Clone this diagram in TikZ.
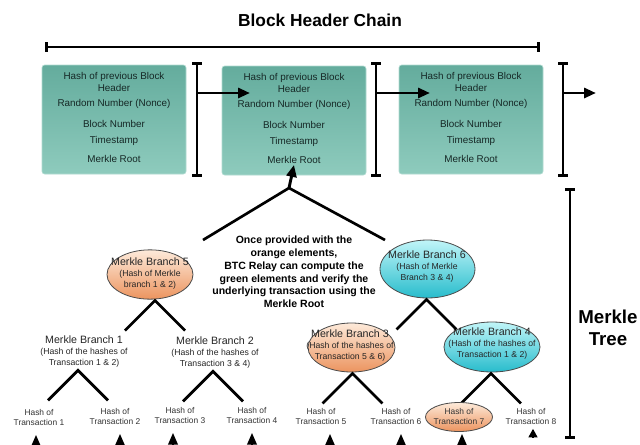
\documentclass[tikz,border=0pt]{standalone}
\usepackage{fontspec}
\setmainfont{Liberation Sans}
\usetikzlibrary{arrows.meta, shapes.geometric, calc, positioning}
\definecolor{HdrTop}{RGB}{100,172,157}
\definecolor{HdrBot}{RGB}{142,203,189}
\definecolor{HdrText}{RGB}{22,40,38}
\definecolor{OrgTop}{RGB}{253,234,218}
\definecolor{OrgBot}{RGB}{236,148,95}
\definecolor{CyaTop}{RGB}{192,245,248}
\definecolor{CyaBot}{RGB}{40,188,204}
\definecolor{EdgeGray}{RGB}{75,75,75}

\begin{document}
\begin{tikzpicture}[x=0.75pt, y=-0.75pt,
    hdrbox/.style={draw=HdrBot!70!white, line width=0.5pt, rounded corners=2pt,
      top color=HdrTop, bottom color=HdrBot, minimum width=108pt,
      minimum height=81.75pt, inner sep=0pt},
    hdrtxt/.style={text=HdrText, font=\fontsize{7.4}{9}\selectfont, align=center, inner sep=1pt},
    ibeam/.style={line width=2.2pt, {Bar[width=7pt]}-{Bar[width=7pt]}},
    chainarrow/.style={line width=2.2pt, -{Triangle[length=9pt,width=7.5pt]}},
    fork/.style={line width=2pt},
    orangenode/.style={ellipse, draw=EdgeGray, line width=0.6pt, top color=OrgTop,
      bottom color=OrgBot, inner sep=0pt},
    cyannode/.style={ellipse, draw=EdgeGray, line width=0.6pt, top color=CyaTop,
      bottom color=CyaBot, inner sep=0pt},
    branchtxt/.style={align=center, text=black!85, font=\fontsize{6.5}{8.25}\selectfont, inner sep=1pt},
    leaftxt/.style={align=center, text=black!80, font=\fontsize{6.3}{7.5}\selectfont, inner sep=1pt},
    leafarrow/.style={line width=2pt, -{Triangle[length=9pt,width=7pt]}},
  ]
  \fill[white] (0,0) rectangle (640,444);
  \useasboundingbox (0,0) rectangle (640,444);

  % block header chain
  \node[font=\bfseries\fontsize{13}{15}\selectfont] (title) at (320,20) {Block Header Chain};
  \draw[ibeam] (45,47) coordinate (chainl) -- (540,47) coordinate (chainr);

  \foreach \n/\x/\y in {1/114/119.5, 2/294/120.5, 3/471/119.5} {
    \node[hdrbox] (hdr\n) at (\x,\y) {};
    \node[hdrtxt] (prev\n) at ($(hdr\n.north)+(0,17)$) {Hash of previous Block\\Header};
    \node[hdrtxt] (nonce\n) at ($(hdr\n.north)+(0,39)$) {Random Number (Nonce)};
    \node[hdrtxt] (num\n) at ($(hdr\n.north)+(0,59)$) {Block Number};
    \node[hdrtxt] (time\n) at ($(hdr\n.north)+(0,76)$) {Timestamp};
    \node[hdrtxt] (root\n) at ($(hdr\n.north)+(0,94)$) {Merkle Root};
  }

  \foreach \n/\x/\len in {1/197/53, 2/376/54, 3/563/33} {
    \draw[ibeam] (\x,62) coordinate (bt\n) -- (\x,177) coordinate (bb\n);
    \draw[chainarrow] (\x,93) coordinate (ba\n) -- ++(\len,0);
  }

  % merkle tree
  \draw[ibeam] (570,188) coordinate (treetop) -- (570,439) coordinate (treebot);
  \node[font=\bfseries\fontsize{14}{16.5}\selectfont, align=center] (treelabel) at (608,328) {Merkle\\Tree};

  \coordinate (apex) at (289,188);
  \draw[chainarrow] (apex) -- (root2.south);
  \draw[fork] (203,240) coordinate (forkl) -- (apex) -- (385,240) coordinate (forkr);

  \node[font=\bfseries\fontsize{7.9}{9.6}\selectfont, align=center] (note) at (294,272)
    {Once provided with the\\orange elements,\\BTC Relay can compute the\\green elements and verify the\\underlying transaction using the\\Merkle Root};

  \node[orangenode, minimum width=64.5pt, minimum height=37pt] (mb5) at (150,274.5) {};
  \node[branchtxt] (mb5t) at (150,274) {{\fontsize{8}{8.25}\selectfont Merkle Branch 5}\\(Hash of Merkle\\branch 1 \& 2)};
  \node[cyannode, minimum width=71.25pt, minimum height=43.5pt] (mb6) at (427.5,269) {};
  \node[branchtxt] (mb6t) at (427,267) {{\fontsize{8}{8.25}\selectfont Merkle Branch 6}\\(Hash of Merkle\\Branch 3 \& 4)};
  \node[orangenode, minimum width=65.25pt, minimum height=36.75pt] (mb3) at (351.5,347.5) {};
  \node[branchtxt] (mb3t) at (350,346) {{\fontsize{8}{8.25}\selectfont Merkle Branch 3}\\(Hash of the hashes of\\Transaction 5 \& 6)};
  \node[cyannode, minimum width=72pt, minimum height=37.5pt] (mb4) at (492,347) {};
  \node[branchtxt] (mb4t) at (492,344) {{\fontsize{8}{8.25}\selectfont Merkle Branch 4}\\(Hash of the hashes of\\Transaction 1 \& 2)};
  \node[branchtxt] (mb1) at (84,352) {{\fontsize{8}{8.25}\selectfont Merkle Branch 1}\\(Hash of the hashes of\\Transaction 1 \& 2)};
  \node[branchtxt] (mb2) at (215,353) {{\fontsize{8}{8.25}\selectfont Merkle Branch 2}\\(Hash of the hashes of\\Transaction 3 \& 4)};

  \foreach \p/\dx in {mb5/5, mb6/-1, mb1/-6, mb2/-2, mb3/1, mb4/-1}
    \draw[fork] ($(\p.south)+(\dx,1)$) coordinate (\p-a) ++(-30,30) coordinate (\p-l)
      -- (\p-a) -- ++(30,30) coordinate (\p-r);

  % leaves
  \node[orangenode, minimum width=50.25pt, minimum height=21.75pt] (t7box) at (459,417) {};
  \foreach \i/\x/\y in {1/39/417, 2/115/416, 3/180/415, 4/252/415, 5/321/416, 6/396/416, 7/459/416, 8/531/416}
    \node[leaftxt] (t\i) at (\x,\y) {Hash of\\Transaction \i};

  \foreach \i/\dx in {1/-3, 2/5, 3/-7, 4/0, 5/9, 6/5, 7/3}
    \draw[leafarrow] ($(t\i.south)+(\dx,30)$) -- ($(t\i.south)+(\dx,8)$);
  \draw[line width=2pt, -{Triangle[length=6.5pt,width=6.5pt]}] ($(t8.south)+(2,12)$) -- ($(t8.south)+(2,3)$);
\end{tikzpicture}
\end{document}
